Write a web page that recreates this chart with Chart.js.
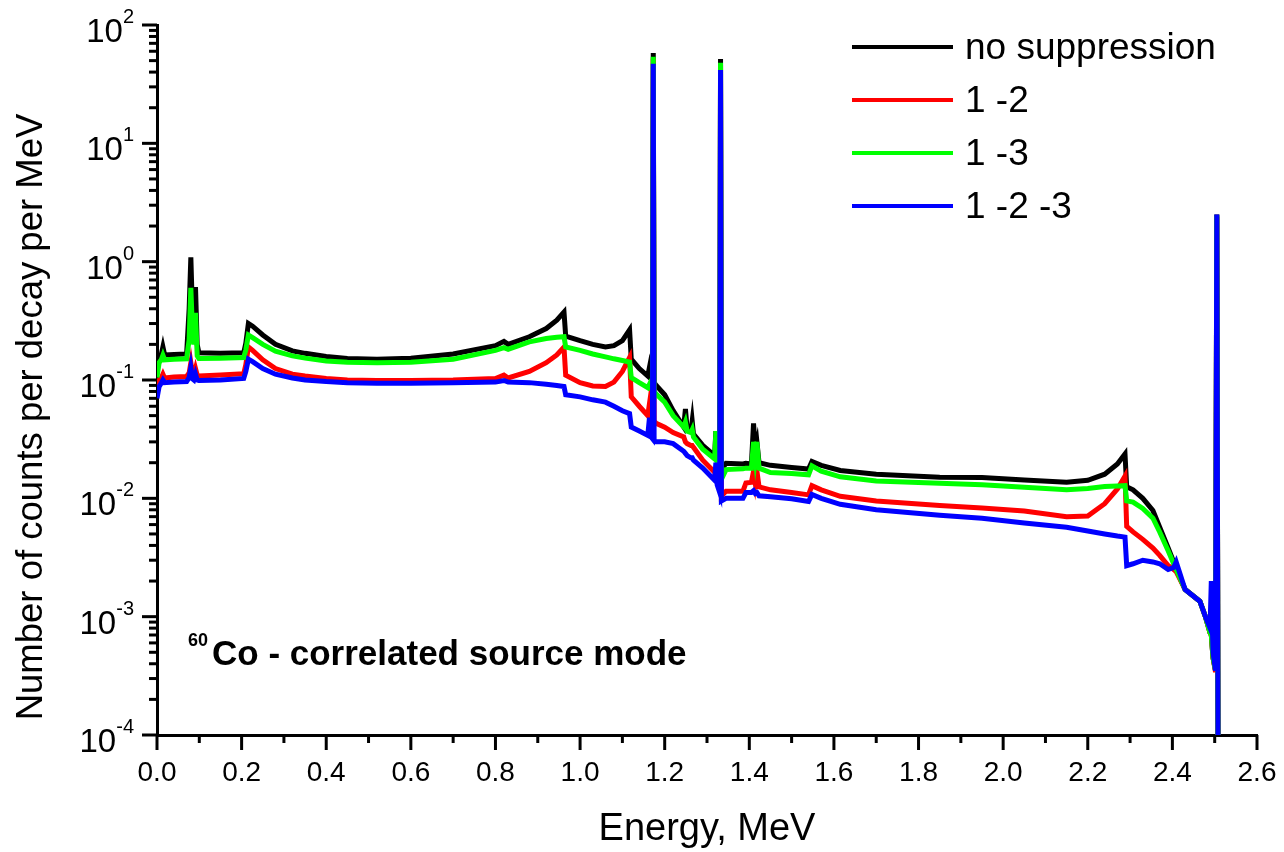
<!DOCTYPE html>
<html>
<head>
<meta charset="utf-8">
<title>60Co correlated source mode</title>
<script src="https://cdn.jsdelivr.net/npm/chart.js@4"></script>
<style>
  html, body { margin: 0; padding: 0; background: #ffffff; }
  #wrap { width: 1284px; height: 852px; position: relative; }
</style>
</head>
<body>
<div id="wrap"><canvas id="spectrum"></canvas></div>
<script>
// energy grid, MeV
const energy = [
  0.000, 0.005, 0.010, 0.014, 0.018, 0.040, 0.070, 0.076, 0.080, 0.084,
  0.087, 0.091, 0.095, 0.099, 0.150, 0.205, 0.210, 0.216, 0.226, 0.250,
  0.280, 0.320, 0.350, 0.400, 0.450, 0.520, 0.600, 0.700, 0.800, 0.820,
  0.830, 0.880, 0.920, 0.945, 0.962, 0.966, 1.000, 1.030, 1.060, 1.080,
  1.100, 1.117, 1.121, 1.140, 1.160, 1.164, 1.168, 1.171, 1.173, 1.175,
  1.180, 1.200, 1.220, 1.245, 1.249, 1.253, 1.262, 1.265, 1.268, 1.290,
  1.318, 1.321, 1.324, 1.330, 1.332, 1.334, 1.345, 1.385, 1.392, 1.405,
  1.410, 1.414, 1.418, 1.423, 1.450, 1.500, 1.540, 1.548, 1.570, 1.615,
  1.700, 1.850, 1.950, 2.050, 2.150, 2.200, 2.240, 2.270, 2.288, 2.292,
  2.307, 2.330, 2.354, 2.370, 2.390, 2.403, 2.409, 2.430, 2.465, 2.478,
  2.489, 2.492, 2.496, 2.502, 2.505, 2.508
];

// counts per decay per MeV
const noSuppression = [
  0.150, 0.160, 0.163, 0.190, 0.163, 0.164, 0.166, 0.40, 1.09, 0.35,
  0.25, 0.61, 0.20, 0.170, 0.168, 0.170, 0.205, 0.300, 0.285, 0.240,
  0.200, 0.176, 0.168, 0.158, 0.152, 0.150, 0.153, 0.166, 0.195, 0.212,
  0.200, 0.232, 0.272, 0.320, 0.375, 0.235, 0.215, 0.200, 0.190, 0.195,
  0.215, 0.265, 0.150, 0.125, 0.108, 0.128, 0.105, 0.100, 58, 0.095,
  0.090, 0.075, 0.055, 0.040, 0.057, 0.039, 0.037, 0.045, 0.035, 0.028,
  0.023, 0.037, 0.022, 0.020, 51.6, 0.0175, 0.0198, 0.0195, 0.0198, 0.0195,
  0.043, 0.026, 0.030, 0.020, 0.0190, 0.0182, 0.0177, 0.0205, 0.0190, 0.0172,
  0.0160, 0.0151, 0.0150, 0.0143, 0.0137, 0.0142, 0.0160, 0.0195, 0.0237, 0.0125,
  0.0118, 0.0100, 0.0079, 0.0057, 0.0038, 0.0029, 0.0025, 0.0017, 0.00135, 0.0010,
  0.00073, 0.0007, 0.00045, 0.00035, 2.5, 5e-5
];
const supp12 = [
  0.082, 0.100, 0.104, 0.112, 0.104, 0.106, 0.107, 0.115, 0.140, 0.112,
  0.110, 0.125, 0.110, 0.108, 0.110, 0.113, 0.135, 0.190, 0.178, 0.148,
  0.125, 0.112, 0.108, 0.103, 0.100, 0.099, 0.099, 0.100, 0.103, 0.110,
  0.104, 0.118, 0.140, 0.163, 0.190, 0.110, 0.095, 0.089, 0.088, 0.096,
  0.118, 0.155, 0.072, 0.060, 0.050, 0.063, 0.049, 0.048, 52, 0.045,
  0.043, 0.040, 0.036, 0.033, 0.030, 0.029, 0.028, 0.028, 0.027, 0.021,
  0.0166, 0.0170, 0.0140, 0.0125, 46, 0.0105, 0.0115, 0.0115, 0.0135, 0.0137,
  0.0170, 0.0135, 0.0170, 0.0125, 0.0118, 0.0112, 0.0107, 0.0128, 0.0118, 0.0104,
  0.0095, 0.0087, 0.0083, 0.0078, 0.0070, 0.0071, 0.0090, 0.0120, 0.0154, 0.0058,
  0.0052, 0.0045, 0.0038, 0.0033, 0.0027, 0.0025, 0.0024, 0.0017, 0.00135, 0.0010,
  0.00073, 0.0007, 0.00045, 0.00034, 2.4, 5e-5
];
const supp13 = [
  0.105, 0.140, 0.148, 0.162, 0.148, 0.150, 0.151, 0.22, 0.60, 0.25,
  0.20, 0.37, 0.16, 0.152, 0.153, 0.155, 0.180, 0.240, 0.228, 0.200,
  0.175, 0.160, 0.153, 0.145, 0.141, 0.140, 0.141, 0.150, 0.178, 0.188,
  0.182, 0.210, 0.224, 0.230, 0.232, 0.190, 0.178, 0.166, 0.157, 0.151,
  0.146, 0.142, 0.105, 0.095, 0.086, 0.092, 0.085, 0.084, 54, 0.080,
  0.076, 0.065, 0.050, 0.040, 0.044, 0.037, 0.036, 0.038, 0.033, 0.026,
  0.0215, 0.037, 0.020, 0.019, 48, 0.0145, 0.0175, 0.0178, 0.0180, 0.0180,
  0.030, 0.022, 0.030, 0.018, 0.0165, 0.0162, 0.0158, 0.0188, 0.0170, 0.0152,
  0.0140, 0.0134, 0.0130, 0.0124, 0.0118, 0.0121, 0.0126, 0.0127, 0.0128, 0.0095,
  0.0093, 0.0082, 0.0068, 0.0052, 0.0036, 0.0028, 0.0025, 0.0017, 0.00135, 0.0010,
  0.00073, 0.0007, 0.00045, 0.00035, 2.45, 5e-5
];
const supp123 = [
  0.070, 0.088, 0.094, 0.100, 0.095, 0.096, 0.097, 0.105, 0.128, 0.102,
  0.100, 0.112, 0.100, 0.099, 0.100, 0.103, 0.118, 0.150, 0.143, 0.125,
  0.112, 0.104, 0.100, 0.097, 0.095, 0.094, 0.094, 0.095, 0.096, 0.099,
  0.096, 0.095, 0.092, 0.090, 0.088, 0.075, 0.072, 0.068, 0.065, 0.060,
  0.055, 0.052, 0.040, 0.037, 0.034, 0.048, 0.033, 0.032, 47, 0.031,
  0.030, 0.030, 0.029, 0.025, 0.024, 0.023, 0.022, 0.022, 0.021, 0.018,
  0.0142, 0.0200, 0.0130, 0.0112, 41.7, 0.0095, 0.0100, 0.0100, 0.0112, 0.0112,
  0.0116, 0.0110, 0.0112, 0.0105, 0.0103, 0.0099, 0.0094, 0.0108, 0.0100, 0.0089,
  0.0080, 0.0072, 0.0068, 0.0062, 0.0057, 0.0053, 0.0050, 0.0048, 0.0047, 0.0027,
  0.0028, 0.0030, 0.0029, 0.0028, 0.0025, 0.0026, 0.0029, 0.0017, 0.00135, 0.0010,
  0.0008, 0.0020, 0.0005, 0.00035, 2.5, 5e-5
];

const seriesNames = ['no suppression', '1 -2', '1 -3', '1 -2 -3'];
const seriesColors = ['#000000', '#ff0000', '#00ff00', '#0000ff'];
const seriesValues = [noSuppression, supp12, supp13, supp123];

// axis ticks
const xTickValues = [0.0, 0.1, 0.2, 0.3, 0.4, 0.5, 0.6, 0.7, 0.8, 0.9, 1.0, 1.1, 1.2, 1.3,
  1.4, 1.5, 1.6, 1.7, 1.8, 1.9, 2.0, 2.1, 2.2, 2.3, 2.4, 2.5, 2.6];
const yExponents = [-4, -3, -2, -1, 0, 1, 2];
const yMinorSteps = [2, 3, 4, 5, 6, 7, 8, 9];

const FONT = "'Liberation Sans', Arial, Helvetica, sans-serif";
Chart.defaults.font.family = FONT;
Chart.defaults.color = '#000000';

function toPoints(values) {
  return energy.map((e, i) => ({ x: e, y: values[i] }));
}

// tick marks, y labels with exponents, y title, legend and the note
const decorPlugin = {
  id: 'decor',
  afterDraw(chart) {
    const { ctx, chartArea } = chart;
    const xs = chart.scales.x;
    const ys = chart.scales.y;
    ctx.save();
    ctx.strokeStyle = '#000000';
    ctx.fillStyle = '#000000';
    ctx.lineWidth = 3;

    xTickValues.forEach((v, i) => {
      const px = xs.getPixelForValue(v);
      const len = i % 2 === 0 ? 15 : 8;
      ctx.beginPath();
      ctx.moveTo(px, chartArea.bottom);
      ctx.lineTo(px, chartArea.bottom + len);
      ctx.stroke();
    });

    yExponents.forEach(ex => {
      const base = Math.pow(10, ex);
      const py = ys.getPixelForValue(base);
      ctx.beginPath();
      ctx.moveTo(chartArea.left - 15, py);
      ctx.lineTo(chartArea.left, py);
      ctx.stroke();
      if (ex < 2) {
        yMinorSteps.forEach(m => {
          const pm = ys.getPixelForValue(m * base);
          ctx.beginPath();
          ctx.moveTo(chartArea.left - 8, pm);
          ctx.lineTo(chartArea.left, pm);
          ctx.stroke();
        });
      }
      // label 10^ex
      const expText = String(ex);
      ctx.font = '20px ' + FONT;
      const ew = ctx.measureText(expText).width;
      const right = chartArea.left - 23;
      ctx.textAlign = 'left';
      ctx.textBaseline = 'alphabetic';
      ctx.fillText(expText, right - ew, py - 2);
      ctx.font = '33px ' + FONT;
      ctx.textAlign = 'right';
      ctx.fillText('10', right - ew, py + 17);
    });

    // y axis title
    ctx.save();
    ctx.translate(32, (chartArea.top + chartArea.bottom) / 2 + 37);
    ctx.rotate(-Math.PI / 2);
    ctx.font = '36.5px ' + FONT;
    ctx.textAlign = 'center';
    ctx.textBaseline = 'middle';
    ctx.fillText('Number of counts per decay per MeV', 0, 0);
    ctx.restore();

    // legend
    seriesNames.forEach((name, i) => {
      const ly = chartArea.top + 22 + i * 53;
      ctx.strokeStyle = seriesColors[i];
      ctx.lineWidth = 4;
      ctx.beginPath();
      ctx.moveTo(chartArea.right - 405, ly);
      ctx.lineTo(chartArea.right - 304, ly);
      ctx.stroke();
      ctx.font = '37px ' + FONT;
      ctx.textAlign = 'left';
      ctx.textBaseline = 'middle';
      ctx.fillText(name, chartArea.right - 292, ly + 2);
    });

    // source note
    ctx.textAlign = 'left';
    ctx.textBaseline = 'alphabetic';
    ctx.font = 'bold 18px ' + FONT;
    ctx.fillText('60', chartArea.left + 31, chartArea.bottom - 89);
    ctx.font = 'bold 35px ' + FONT;
    ctx.fillText('Co - correlated source mode', chartArea.left + 55, chartArea.bottom - 70);

    ctx.restore();
  }
};

const ctx = document.getElementById('spectrum');
new Chart(ctx, {
  type: 'line',
  data: {
    datasets: seriesNames.map((name, i) => ({
      label: name,
      data: toPoints(seriesValues[i]),
      borderColor: seriesColors[i],
      backgroundColor: seriesColors[i],
      borderWidth: 5,
      pointRadius: 0,
      tension: 0,
      fill: false,
      order: 4 - i
    }))
  },
  options: {
    responsive: true,
    maintainAspectRatio: false,
    animation: false,
    layout: { padding: { top: 25, right: 27, left: 0, bottom: 0 } },
    plugins: {
      legend: { display: false },
      tooltip: { enabled: false },
      title: { display: false }
    },
    scales: {
      x: {
        type: 'linear',
        min: 0,
        max: 2.6,
        grid: { display: false, drawTicks: false, tickLength: 0 },
        border: { display: true, color: '#000000', width: 3 },
        ticks: {
          stepSize: 0.2,
          padding: 21,
          font: { size: 28 },
          color: '#000000',
          maxRotation: 0,
          autoSkip: false,
          callback: v => v.toFixed(1)
        },
        title: {
          display: true,
          text: 'Energy, MeV',
          font: { size: 38 },
          color: '#000000',
          padding: { top: 0, bottom: 0 }
        },
        afterFit: s => {
          s.height = 117;
          s.paddingLeft = 0;
          s.paddingRight = 0;
        }
      },
      y: {
        type: 'logarithmic',
        min: 1e-4,
        max: 1e2,
        grid: { display: false, drawTicks: false, tickLength: 0 },
        border: { display: true, color: '#000000', width: 3 },
        ticks: { display: false },
        afterFit: s => { s.width = 157; }
      }
    }
  },
  plugins: [decorPlugin]
});
</script>
</body>
</html>
